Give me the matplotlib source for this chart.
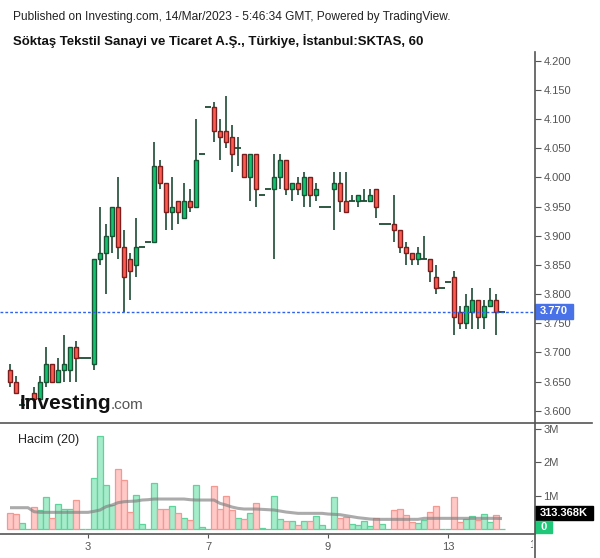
import matplotlib
matplotlib.use('Agg')
import matplotlib.pyplot as plt
from matplotlib.lines import Line2D
from matplotlib.patches import Rectangle
from matplotlib.transforms import Bbox
import numpy as np

plt.rcParams['font.family'] = ['Liberation Sans', 'DejaVu Sans']

# hourly bars, SKTAS
opens = [3.67, 3.65, 3.61, 3.62, 3.63, 3.62, 3.65, 3.68, 3.65, 3.67,
         3.67, 3.71, 3.69, 3.69, 3.68, 3.86, 3.87, 3.90, 3.95, 3.88,
         3.86, 3.85, 3.88, 3.89, 3.89, 4.02, 3.99, 3.94, 3.96, 3.93,
         3.96, 3.95, 4.04, 4.12, 4.12, 4.08, 4.08, 4.07, 4.05, 4.04,
         4.00, 4.04, 3.97, 3.98, 3.98, 4.00, 4.03, 3.98, 3.99, 3.97,
         4.00, 3.97, 3.95, 3.95, 3.98, 3.99, 3.96, 3.96, 3.96, 3.96,
         3.96, 3.98, 3.92, 3.92, 3.92, 3.91, 3.88, 3.87, 3.86, 3.86,
         3.86, 3.83, 3.81, 3.82, 3.83, 3.77, 3.75, 3.77, 3.79, 3.76,
         3.78, 3.79, 3.77]
highs = [3.68, 3.66, 3.62, 3.62, 3.64, 3.66, 3.71, 3.68, 3.69, 3.73,
         3.71, 3.72, 3.69, 3.69, 3.86, 3.95, 3.92, 3.95, 4.00, 3.91,
         3.87, 3.93, 3.88, 3.89, 4.06, 4.03, 3.99, 4.00, 3.96, 3.99,
         3.98, 4.10, 4.04, 4.12, 4.13, 4.10, 4.14, 4.09, 4.07, 4.04,
         4.04, 4.04, 3.97, 3.98, 4.04, 4.04, 4.03, 3.99, 4.00, 4.01,
         4.00, 3.99, 3.95, 3.95, 4.01, 4.01, 4.01, 3.97, 3.97, 3.98,
         3.98, 3.98, 3.92, 3.92, 3.97, 3.91, 3.89, 3.87, 3.88, 3.90,
         3.86, 3.85, 3.81, 3.82, 3.84, 3.78, 3.80, 3.81, 3.79, 3.79,
         3.81, 3.80, 3.77]
lows = [3.64, 3.63, 3.61, 3.62, 3.62, 3.62, 3.64, 3.65, 3.65, 3.65,
        3.65, 3.65, 3.69, 3.69, 3.67, 3.85, 3.80, 3.87, 3.86, 3.77,
        3.79, 3.83, 3.88, 3.89, 3.89, 3.98, 3.91, 3.91, 3.92, 3.93,
        3.94, 3.95, 4.04, 4.12, 4.06, 4.03, 4.05, 4.01, 4.02, 4.00,
        3.96, 3.95, 3.97, 3.98, 3.86, 3.98, 3.97, 3.96, 3.97, 3.95,
        3.95, 3.96, 3.95, 3.95, 3.91, 3.94, 3.94, 3.96, 3.95, 3.96,
        3.96, 3.93, 3.92, 3.92, 3.89, 3.87, 3.85, 3.85, 3.85, 3.86,
        3.82, 3.80, 3.81, 3.82, 3.73, 3.74, 3.74, 3.74, 3.74, 3.74,
        3.78, 3.73, 3.77]
closes = [3.65, 3.63, 3.61, 3.62, 3.62, 3.65, 3.68, 3.65, 3.67, 3.68,
          3.71, 3.69, 3.69, 3.69, 3.86, 3.87, 3.90, 3.95, 3.88, 3.83,
          3.84, 3.88, 3.88, 3.89, 4.02, 3.99, 3.94, 3.95, 3.94, 3.96,
          3.95, 4.03, 4.04, 4.12, 4.08, 4.07, 4.06, 4.04, 4.05, 4.00,
          4.04, 3.98, 3.97, 3.98, 4.00, 4.03, 3.98, 3.99, 3.98, 4.00,
          3.97, 3.98, 3.95, 3.95, 3.99, 3.96, 3.94, 3.96, 3.97, 3.96,
          3.97, 3.95, 3.92, 3.92, 3.91, 3.88, 3.87, 3.86, 3.87, 3.86,
          3.84, 3.81, 3.81, 3.82, 3.76, 3.75, 3.78, 3.79, 3.76, 3.78,
          3.79, 3.77, 3.77]
# volume in millions
volumes = [0.47, 0.44, 0.17, 0.01, 0.65, 0.56, 0.95, 0.32, 0.74, 0.59,
           0.59, 0.86, 0.01, 0.01, 1.52, 2.78, 1.31, 0.71, 1.80, 1.47,
           0.50, 1.01, 0.15, 0.01, 1.37, 0.59, 0.59, 0.68, 0.47, 0.32,
           0.26, 1.31, 0.05, 0.01, 1.28, 0.59, 0.98, 0.56, 0.32, 0.29,
           0.47, 0.77, 0.03, 0.01, 0.99, 0.29, 0.23, 0.23, 0.12, 0.23,
           0.23, 0.39, 0.12, 0.01, 0.95, 0.33, 0.37, 0.15, 0.12, 0.23,
           0.09, 0.33, 0.15, 0.01, 0.56, 0.59, 0.42, 0.21, 0.18, 0.27,
           0.50, 0.68, 0.01, 0.01, 0.95, 0.21, 0.30, 0.39, 0.26, 0.44,
           0.21, 0.42, 0.01]
# 20-bar volume average as drawn on the chart
volume_ma = [0.64, 0.64, 0.64, 0.64, 0.52, 0.50, 0.50, 0.50, 0.50, 0.50,
             0.50, 0.50, 0.50, 0.50, 0.53, 0.57, 0.67, 0.72, 0.79, 0.82,
             0.83, 0.84, 0.87, 0.88, 0.90, 0.90, 0.90, 0.90, 0.90, 0.90,
             0.88, 0.87, 0.87, 0.87, 0.87, 0.77, 0.72, 0.66, 0.62, 0.60,
             0.60, 0.60, 0.59, 0.58, 0.57, 0.54, 0.51, 0.49, 0.47, 0.47,
             0.47, 0.47, 0.47, 0.45, 0.44, 0.43, 0.40, 0.37, 0.34, 0.32,
             0.30, 0.29, 0.29, 0.29, 0.29, 0.29, 0.29, 0.29, 0.29, 0.32,
             0.32, 0.32, 0.32, 0.32, 0.32, 0.32, 0.32, 0.32, 0.32, 0.32,
             0.32, 0.32, 0.313]
day_ticks = [13, 33, 53, 73]
day_labels = ['3', '7', '9', '13']
last_price = 3.77
last_ma = '313.368K'

W, H = 600, 558
GREEN = '#14c26f'
RED = '#ff5b50'
WICK = '#1d4b33'
AXC = '#555555'


def fx(px):
    return px / W


def fy(py):
    return 1 - py / H


fig = plt.figure(figsize=(W / 100, H / 100), dpi=100)
ax = fig.add_axes([0, fy(423), fx(535), (423 - 52) / H])
axv = fig.add_axes([0, fy(534), fx(535), (534 - 423) / H])

x = np.arange(len(opens))
o = np.array(opens)
c = np.array(closes)
up = c >= o

# candles
ax.vlines(x, lows, highs, color=WICK, lw=1.2, zorder=2)
body = o != c
ax.bar(x[body & up], (c - o)[body & up], bottom=o[body & up], width=0.72,
       color=GREEN, edgecolor='#1a5234', linewidth=1.0, zorder=3)
ax.bar(x[body & ~up], (o - c)[body & ~up], bottom=c[body & ~up], width=0.72,
       color=RED, edgecolor='#7a1e1e', linewidth=1.0, zorder=3)
ax.hlines(o[~body], x[~body] - 0.42, x[~body] + 0.42, color=WICK, lw=1.3, zorder=3)

ax.axhline(last_price, color='#2f62f0', lw=1.0, ls=(0, (2, 1.5)), zorder=4)

ax.set_xlim(-1.667, 87.5)
ax.set_ylim(3.579, 4.215)
ax.yaxis.tick_right()
ax.set_yticks(np.arange(3.60, 4.2001, 0.05))
ax.set_yticklabels(['%.3f' % v for v in np.arange(3.60, 4.2001, 0.05)])
ax.tick_params(axis='y', direction='out', length=4, width=0.8, color=AXC,
               labelsize=8, labelcolor=AXC, pad=2)
ax.set_xticks([])
for s in ax.spines.values():
    s.set_visible(False)

# volume
v = np.array(volumes)
axv.bar(x[up], v[up], width=0.9, color='#a6ecca', edgecolor='#5cd49c', linewidth=0.9)
axv.bar(x[~up], v[~up], width=0.9, color='#ffc9c6', edgecolor='#f59890', linewidth=0.9)
axv.plot(x, volume_ma, color='#7f7f7f', lw=2.2, alpha=0.65, solid_capstyle='butt')
axv.set_xlim(-1.667, 87.5)
axv.set_ylim(-0.15, 3.183)
axv.yaxis.tick_right()
axv.set_yticks([1, 2, 3])
axv.set_yticklabels(['1M', '2M', '3M'])
axv.tick_params(axis='y', direction='out', length=4, width=0.8, color=AXC,
                labelsize=8, labelcolor=AXC, pad=2)
axv.set_xticks(day_ticks)
axv.set_xticklabels(day_labels)
axv.tick_params(axis='x', direction='out', length=3, width=0.8, color=AXC,
                labelsize=8, labelcolor=AXC, pad=3)
for s in ['left', 'top', 'right']:
    axv.spines[s].set_visible(False)
axv.spines['bottom'].set_color(AXC)
axv.spines['bottom'].set_linewidth(1.2)

# next day label, cut by the price scale
t14 = axv.text(87.6, -0.32, '14', ha='center', va='top', fontsize=8, color=AXC)
t14.set_clip_on(True)
t14.set_clip_box(Bbox.from_extents(0, 0, 533, H))

# frame lines
fig.add_artist(Line2D([fx(0), fx(592)], [fy(423), fy(423)], color=AXC, lw=1.2))
fig.add_artist(Line2D([fx(535), fx(535)], [fy(52), fy(558)], color=AXC, lw=1.2))

# price / volume labels on the scale
fig.add_artist(Rectangle((fx(535), fy(319)), fx(38), 15 / H, color='#4a72e8'))
fig.text(fx(554), fy(311.5), '%.3f' % last_price, color='white', fontsize=8,
         fontweight='bold', ha='center', va='center')
fig.add_artist(Rectangle((fx(535), fy(520)), fx(58), 14 / H, color='black'))
fig.text(fx(564), fy(513), last_ma, color='white', fontsize=8,
         fontweight='bold', ha='center', va='center')
fig.add_artist(Rectangle((fx(535), fy(533)), fx(17), 12 / H, color='#1ec878'))
fig.text(fx(543.5), fy(527), '0', color='white', fontsize=8,
         fontweight='bold', ha='center', va='center')

# texts
fig.text(fx(13), fy(17), 'Published on Investing.com, 14/Mar/2023 - 5:46:34 GMT, Powered by TradingView.',
         fontsize=8.6, color='#222222', va='center')
fig.text(fx(13), fy(41), 'Söktaş Tekstil Sanayi ve Ticaret A.Ş., Türkiye, İstanbul:SKTAS, 60',
         fontsize=9.5, fontweight='bold', color='#111111', va='center')
fig.text(fx(18), fy(440), 'Hacim (20)', fontsize=9, color='#222222', va='center')
fig.text(fx(20), fy(409), 'Investing', fontsize=15, fontweight='bold', color='#111111',
         va='baseline')
fig.text(fx(111), fy(409), '.com', fontsize=11, color='#555555', va='baseline')

fig.savefig('out.png', dpi=100, facecolor='white')
